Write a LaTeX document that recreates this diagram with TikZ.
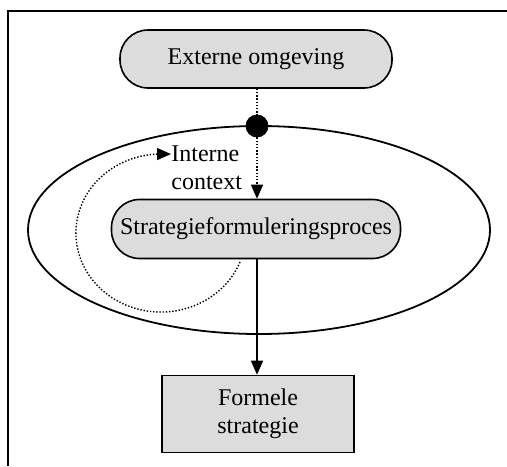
\documentclass[tikz,border=0pt]{standalone}
\usepackage{fontspec}
\setmainfont{Liberation Serif}
\usetikzlibrary{arrows.meta}
\definecolor{boxgray}{RGB}{220,220,220}
\begin{document}
\begin{tikzpicture}[x=0.5pt,y=-0.5pt,
  every node/.style={font=\fontsize{12}{14}\selectfont},
  stadium/.style={draw, fill=boxgray, line width=0.8pt, rounded corners=14pt, inner sep=0pt},
  plainbox/.style={draw, fill=boxgray, line width=0.8pt, inner sep=0pt, align=center},
  tip/.style={-{Triangle[length=7pt,width=6pt]}},
  dotline/.style={line width=0.7pt, dash pattern=on 0.7pt off 0.9pt}
]
\useasboundingbox (0,0) rectangle (507,466);
% frame
\draw[line width=1pt] (8,466) -- (8,11) -- (507,11);
% ellipse
\draw[line width=0.9pt] (259,230) ellipse [x radius=231, y radius=104];
% nodes
\node[stadium, minimum width=136pt, minimum height=29pt] (ext) at (256,59) {Externe omgeving};
\node[stadium, minimum width=144.5pt, minimum height=29.5pt] (sfp) at (256,229) {Strategieformuleringsproces};
\node[plainbox, minimum width=96pt, minimum height=38.5pt] (fs) at (258,414) {Formele\\strategie};
\node[circle, fill=black, draw=black, minimum size=11pt, inner sep=0pt] (dot) at (257,126) {};
\node[align=left, anchor=west, inner sep=0pt] (ic) at (171,168) {Interne\\context};
% connectors
\draw[dotline] (ext.south -| dot) -- (dot.north);
\draw[dotline, tip] (dot.south) -- (sfp.north -| dot);
\draw[line width=0.8pt, tip] (sfp.south -| dot) -- (fs.north -| dot);
\coordinate (loopstart) at (240,262);
\draw[dotline] (loopstart) arc[start angle=-21.5, end angle=-270, x radius=85, y radius=-79] coordinate (looptop);
\draw[line width=0.7pt, tip] (looptop) -- (ic.west |- looptop);
\end{tikzpicture}
\end{document}
